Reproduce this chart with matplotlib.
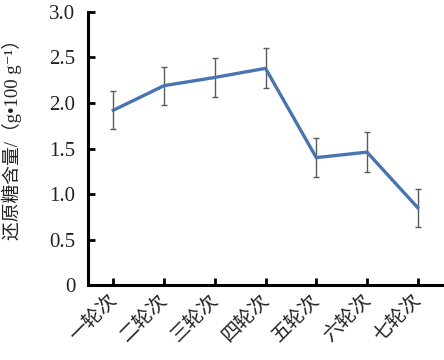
import matplotlib
matplotlib.use("Agg")
import matplotlib.pyplot as plt
from matplotlib.ticker import FuncFormatter
from matplotlib.transforms import ScaledTranslation

categories = ["一轮次", "二轮次", "三轮次", "四轮次", "五轮次", "六轮次", "七轮次"]
values = [1.92, 2.19, 2.28, 2.38, 1.40, 1.46, 0.85]
errors = [0.21, 0.21, 0.21, 0.22, 0.21, 0.22, 0.21]
yticks = [0, 0.5, 1.0, 1.5, 2.0, 2.5, 3.0]

plt.rcParams['font.family'] = ['Liberation Serif', 'Noto Sans CJK SC', 'DejaVu Sans']

fig = plt.figure(figsize=(4.44, 3.6), dpi=100)
ax = fig.add_axes([0.198, 0.208, 0.800, 0.759])

x = list(range(len(categories)))
ax.errorbar(x, values, yerr=errors, color='#4a74b0', lw=2.4,
            ecolor='#5a5a5a', elinewidth=1.0, capsize=2.5, capthick=1.0)

ax.set_xlim(-0.5, 6.5)
ax.set_ylim(0, 3.0)
ax.set_yticks(yticks)
ax.yaxis.set_major_formatter(FuncFormatter(lambda v, p: "0" if v == 0 else f"{v:.1f}"))
ax.set_xticks(x)
ax.set_xticklabels(categories, rotation=45, ha='right', va='center', rotation_mode='anchor',
                   fontsize=14, family=['Noto Sans CJK SC'], color='#222222')
offset = ScaledTranslation(9/100, -19/100, fig.dpi_scale_trans)
for lab in ax.get_xticklabels():
    lab.set_transform(lab.get_transform() + offset)
for lab in ax.get_yticklabels():
    lab.set_fontsize(15)
    lab.set_color('#222222')

ax.tick_params(axis='both', direction='in', width=2, length=5, color='black')
ax.tick_params(axis='y', pad=9)
ax.tick_params(axis='x', pad=8)

for s in ['top', 'right']:
    ax.spines[s].set_visible(False)
for s in ['left', 'bottom']:
    ax.spines[s].set_linewidth(2.2)

ax.set_ylabel("还原糖含量/（g•100 g⁻¹）", fontsize=13.5, color='#222222')
ax.yaxis.set_label_coords(-0.186, 0.55)

fig.savefig("out.png", dpi=100)
